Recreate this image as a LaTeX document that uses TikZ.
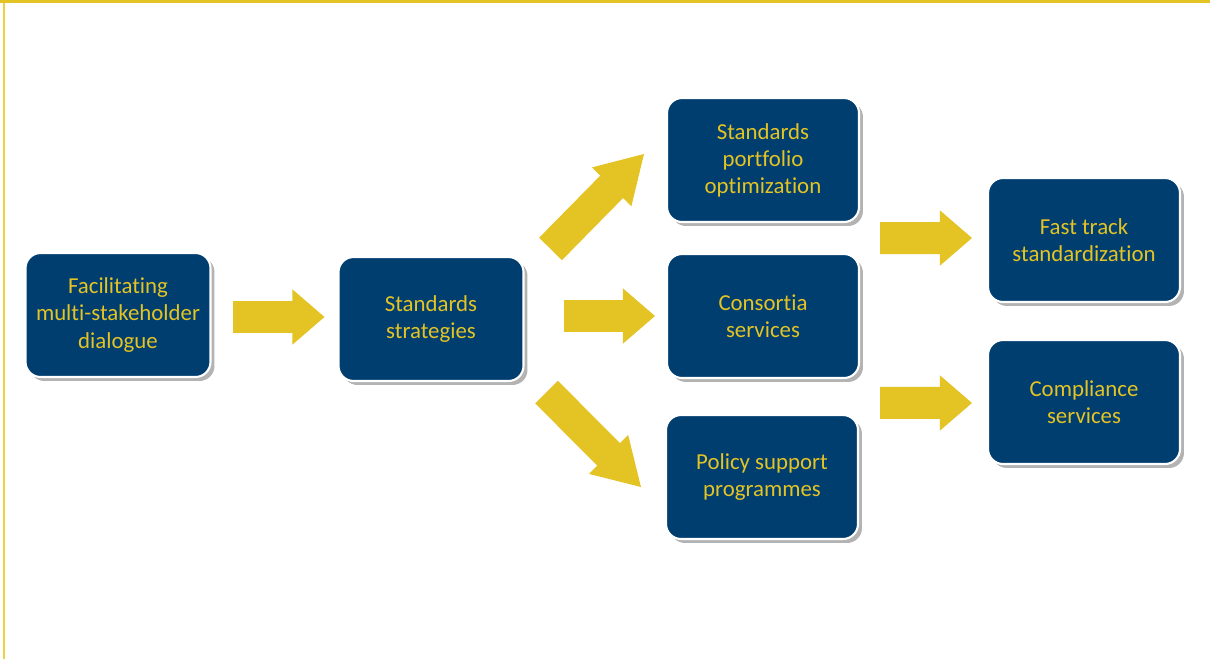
\documentclass[tikz,border=0pt]{standalone}
\usepackage{fontspec}
\setmainfont{Carlito}[Ligatures=NoCommon]
\usepackage{tikz}
\usetikzlibrary{shapes, positioning, arrows.meta, shadows}
\definecolor{boxblue}{RGB}{0,62,112}
\definecolor{arrowyellow}{RGB}{228,195,36}
\definecolor{lineyellow}{RGB}{240,208,64}

\tikzset{
  box/.style={rectangle, rounded corners=0.3cm, draw=white, line width=1.2pt, fill=boxblue,
    text=arrowyellow, align=center, minimum width=3.84cm, minimum height=2.48cm,
    font=\fontsize{13}{15.4}\selectfont,
    drop shadow={shadow xshift=0.08cm, shadow yshift=-0.08cm, opacity=0.6}},
  bigarrow/.style={arrowyellow, line width=0.64cm, -{Triangle[length=#1, width=1.1cm, line width=0.6pt]}},
  bigarrow/.default=0.64cm
}

\begin{document}
\begin{tikzpicture}[x=0.02cm, y=-0.02cm]
        \useasboundingbox (0,0) rectangle (1210,659);
        \fill[arrowyellow] (0,0) rectangle (1210,3);
        \fill[lineyellow] (3,3) rectangle (5,659);

        \node[box, minimum width=3.7cm] (fac) at (118, 315) {Facilitating\\multi-stakeholder\\dialogue};
        \node[box, minimum width=3.7cm] (strat) at (431, 319) {Standards\\strategies};
        \node[box] (port) at (763, 160) {Standards\\portfolio\\optimization};
        \node[box] (cons) at (763, 316) {Consortia\\services};
        \node[box] (pol) at (762, 477) {Policy support\\programmes};
        \node[box] (fast) at (1084, 240) {Fast track\\standardization};
        \node[box] (comp) at (1084, 402) {Compliance\\services};

        \draw[bigarrow] ([shift={(21,2)}]fac.east) -- ([shift={(-13,-2)}]strat.west);
        \draw[bigarrow] ([shift={(39,-3)}]strat.east) -- ([shift={(-11,0)}]cons.west);
        \draw[bigarrow=0.92cm] ([shift={(26,-7)}]strat.north east) -- ([shift={(-22,-6)}]port.west);
        \draw[bigarrow=0.92cm] ([shift={(22,10)}]strat.south east) -- ([shift={(-24,10)}]pol.west);
        \draw[bigarrow] ([shift={(20,15)}]port.south east) -- ([shift={(-15,-2)}]fast.west);
        \draw[bigarrow] ([shift={(21,-11)}]pol.north east) -- ([shift={(-15,1)}]comp.west);
    \end{tikzpicture}
\end{document}
